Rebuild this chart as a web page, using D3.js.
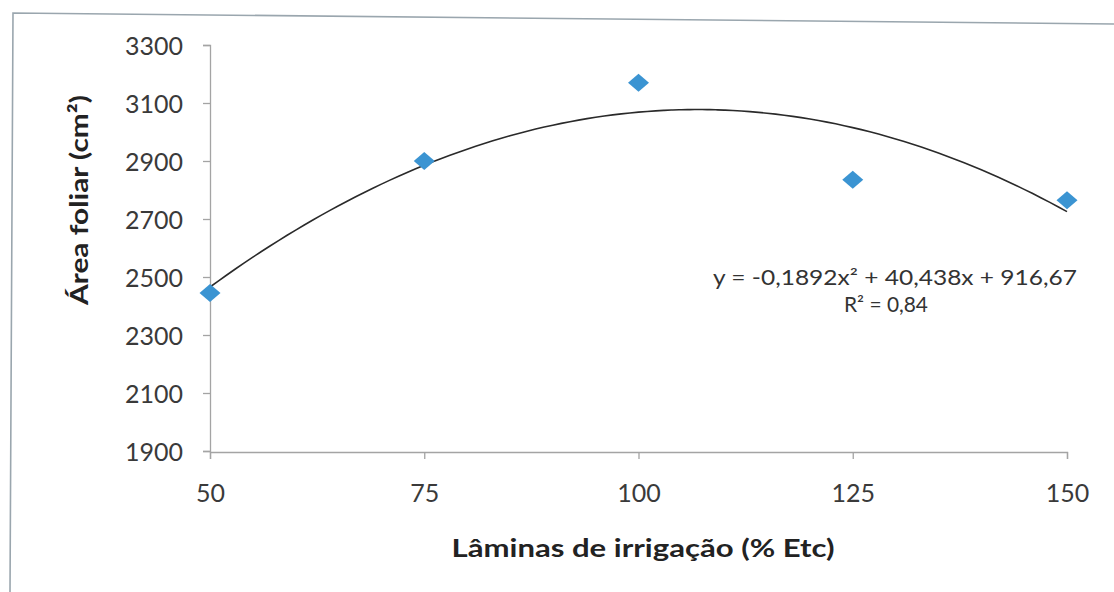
<!DOCTYPE html>
<html>
<head>
<meta charset="utf-8">
<script src="https://cdn.jsdelivr.net/npm/d3@7"></script>
<style>
  html, body { margin: 0; padding: 0; background: #fff; }
  svg { display: block; }
  text { font-family: Lato, "Open Sans", sans-serif; }
</style>
</head>
<body>
<svg id="chart" width="1114" height="592"></svg>
<script>
// Irrigation depth (% ETc) and mean leaf area (cm²)
const laminas = [50, 75, 100, 125, 150];
const areaFoliar = [2445, 2900, 3170, 2835, 2765];

// Quadratic trend: y = a·x² + b·x + c
const coef = [-0.1892, 40.438, 916.67];
const equationLabel = "y = -0,1892x² + 40,438x + 916,67";
const r2Label = "R² = 0,84";

const xTicks = [50, 75, 100, 125, 150];
const yTicks = [1900, 2100, 2300, 2500, 2700, 2900, 3100, 3300];
const xTitle = "Lâminas de irrigação (% Etc)";
const yTitle = "Área foliar (cm²)";

const svg = d3.select("#chart");

// outer frame
svg.append("path")
  .attr("d", "M10,592 L13,13 L1114,24")
  .attr("fill", "none")
  .attr("stroke", "#9aa6ae")
  .attr("stroke-width", 1.6);

const m = { left: 210, right: 1067, top: 45, bottom: 451 };

const x = d3.scaleLinear().domain([50, 150]).range([m.left, m.right]);
const y = d3.scaleLinear().domain([1900, 3300]).range([m.bottom, m.top]);

// y axis
const yAxis = svg.append("g")
  .attr("transform", `translate(${m.left},0)`)
  .call(d3.axisLeft(y).tickValues(yTicks).tickSize(7).tickPadding(20).tickFormat(d3.format("d")));
// x axis
const xAxis = svg.append("g")
  .attr("transform", `translate(0,${m.bottom + 1})`)
  .call(d3.axisBottom(x).tickValues(xTicks).tickSize(7).tickPadding(20).tickFormat(d3.format("d")));

[yAxis, xAxis].forEach(g => {
  g.select(".domain").attr("stroke", "#a4a4a4").attr("stroke-width", 1.3);
  g.selectAll(".tick line").attr("stroke", "#a4a4a4").attr("stroke-width", 1.3);
  g.selectAll(".tick text")
    .attr("fill", "#3a3a3a")
    .style("font-size", "25px")
    .style("font-family", "Lato, 'Open Sans', sans-serif");
});
yAxis.selectAll(".tick text").attr("dy", "0.36em");
xAxis.selectAll(".tick text").attr("dy", "0.9em");

// trend curve from the fitted coefficients
const curvePts = d3.range(50, 150.01, 1).map(v => [v, coef[0] * v * v + coef[1] * v + coef[2]]);
svg.append("path")
  .datum(curvePts)
  .attr("fill", "none")
  .attr("stroke", "#2a2a2a")
  .attr("stroke-width", 1.6)
  .attr("d", d3.line().x(d => x(d[0])).y(d => y(d[1])).curve(d3.curveMonotoneX));

// diamond markers
const diamond = "M0,-9 L10.5,0 L0,9 L-10.5,0 Z";
svg.append("g").selectAll("path.pt")
  .data(laminas.map((l, i) => [l, areaFoliar[i]]))
  .join("path")
  .attr("class", "pt")
  .attr("transform", d => `translate(${x(d[0])},${y(d[1])})`)
  .attr("d", diamond)
  .attr("fill", "#3b94d2");

// equation labels
svg.append("text")
  .attr("x", 895).attr("y", 285)
  .attr("text-anchor", "middle")
  .attr("fill", "#333")
  .style("font-size", "21px")
  .attr("textLength", 364)
  .attr("lengthAdjust", "spacingAndGlyphs")
  .text(equationLabel);
svg.append("text")
  .attr("x", 886).attr("y", 312)
  .attr("text-anchor", "middle")
  .attr("fill", "#333")
  .style("font-size", "21px")
  .attr("textLength", 84)
  .attr("lengthAdjust", "spacingAndGlyphs")
  .text(r2Label);

// axis titles
svg.append("text")
  .attr("x", 643).attr("y", 557)
  .attr("text-anchor", "middle")
  .attr("fill", "#222")
  .style("font-size", "24px")
  .style("font-weight", "bold")
  .attr("textLength", 383)
  .attr("lengthAdjust", "spacingAndGlyphs")
  .text(xTitle);
svg.append("text")
  .attr("transform", "translate(88,200) rotate(-90)")
  .attr("text-anchor", "middle")
  .attr("fill", "#222")
  .style("font-size", "25px")
  .style("font-weight", "bold")
  .attr("textLength", 210)
  .attr("lengthAdjust", "spacingAndGlyphs")
  .text(yTitle);
</script>
</body>
</html>
